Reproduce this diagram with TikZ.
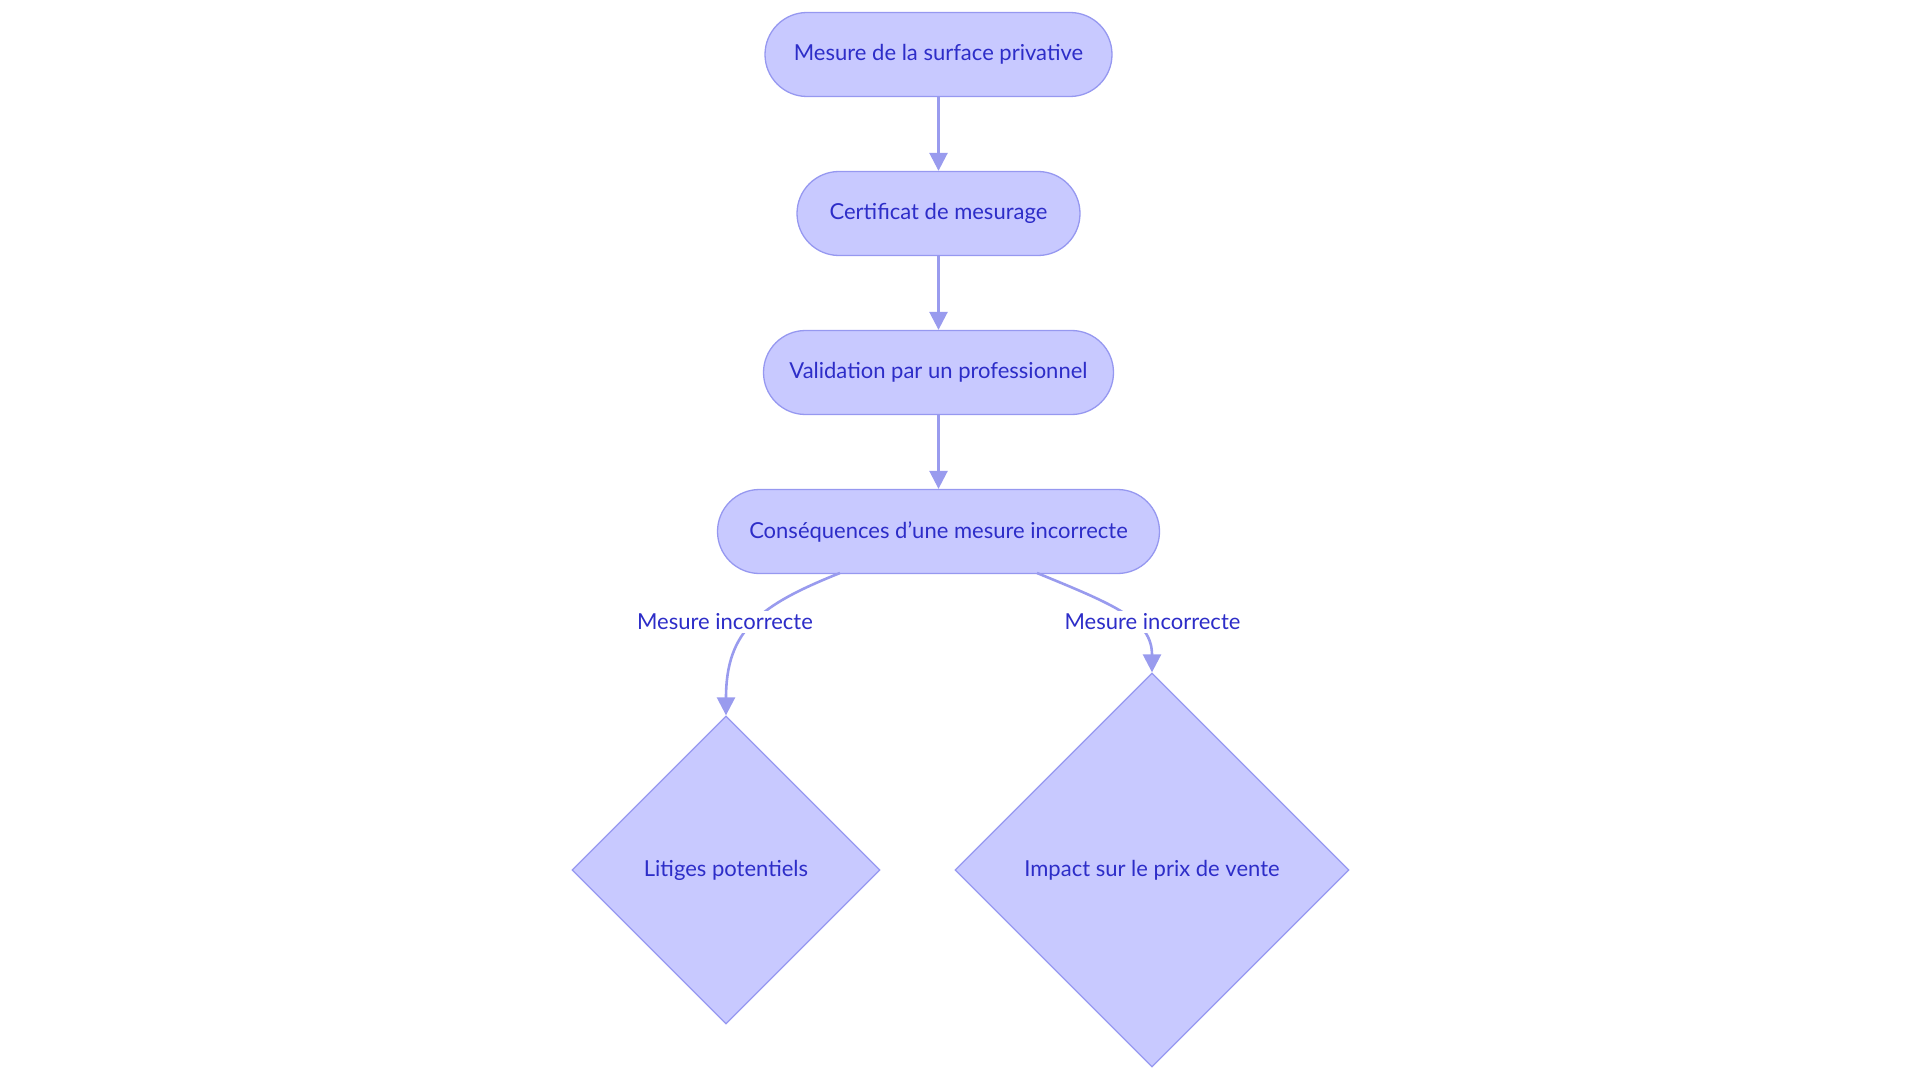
\documentclass[tikz,border=0pt]{standalone}
\usepackage{fontspec}
\setmainfont{Lato}
\usetikzlibrary{shapes.geometric,arrows.meta}
\definecolor{nfill}{RGB}{200,201,255}
\definecolor{nstroke}{RGB}{150,152,240}
\definecolor{ntext}{RGB}{45,45,200}
\definecolor{edgec}{RGB}{153,155,238}
\tikzset{
  pill/.style={draw=nstroke, fill=nfill, line width=1.3pt, rounded corners=42pt,
    minimum height=84pt, inner xsep=4pt, text=ntext, font=\fontsize{22}{26}\selectfont},
  rhomb/.style={diamond, aspect=1, draw=nstroke, fill=nfill, line width=1.3pt, inner sep=0pt,
    text=ntext, font=\fontsize{22}{26}\selectfont},
  edge/.style={draw=edgec, line width=2.6pt, -{Triangle[length=18pt,width=18pt]}},
  elabel/.style={fill=white, inner xsep=1pt, inner ysep=3pt, text=ntext, font=\fontsize{22}{26}\selectfont}
}
\begin{document}
\begin{tikzpicture}[x=1pt,y=-1pt]
\useasboundingbox (0,0) rectangle (1920,1083);
\node[pill, minimum width=347pt] (n1) at (938.5,54.5) {\raisebox{-1pt}{Mesure de la surface privative}};
\node[pill, minimum width=283pt] (n2) at (938.5,213.5) {\raisebox{-1pt}{Certificat de mesurage}};
\node[pill, minimum width=350pt] (n3) at (938.5,372.5) {\raisebox{-1pt}{Validation par un professionnel}};
\node[pill, minimum width=442pt] (n4) at (938.5,531.5) {\raisebox{-1pt}{Conséquences d{\char"27}une mesure incorrecte}};
\node[rhomb, minimum width=308pt, minimum height=308pt] (d1) at (726,870) {\raisebox{-1pt}{Litiges potentiels}};
\node[rhomb, minimum width=394pt, minimum height=394pt] (d2) at (1152,870) {\raisebox{-1pt}{Impact sur le prix de vente}};
\coordinate (s1) at (840,573);
\coordinate (s2) at (1037,573);
\draw[edge] (n1.south) -- (n2.north);
\draw[edge] (n2.south) -- (n3.north);
\draw[edge] (n3.south) -- (n4.north);
\draw[edge] (s1) .. controls (760,605) and (726,630) .. (d1.north);
\draw[edge] (s2) .. controls (1115,605) and (1152,620) .. (d2.north);
\node[elabel] (l1) at (725,622) {Mesure incorrecte};
\node[elabel] (l2) at (1152.5,622) {Mesure incorrecte};
\end{tikzpicture}
\end{document}
